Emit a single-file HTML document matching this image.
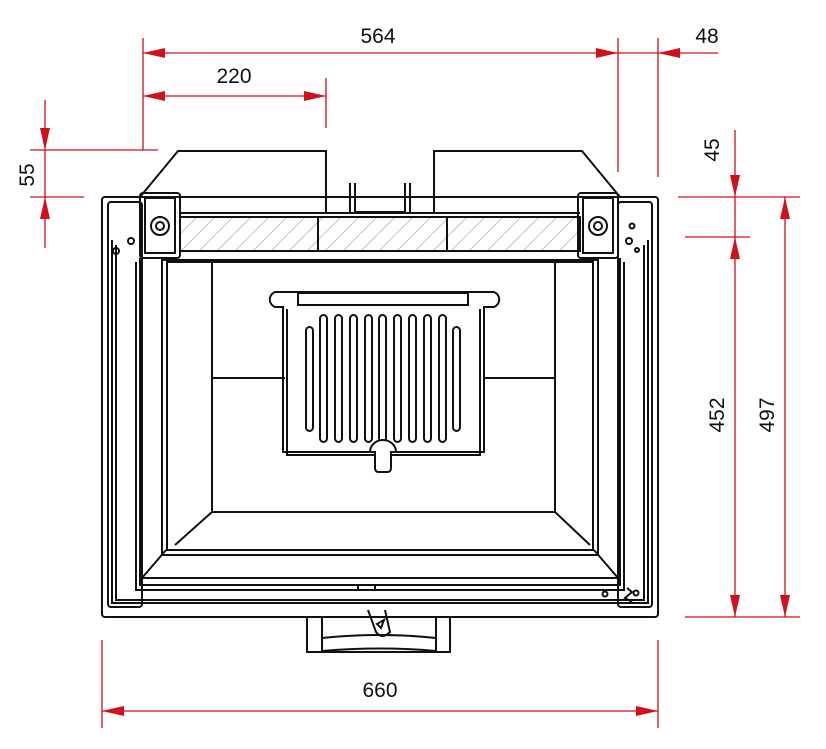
<!DOCTYPE html>
<html><head><meta charset="utf-8"><style>html,body{margin:0;padding:0;background:#fff}svg{display:block}text{font-family:"Liberation Sans",sans-serif;font-size:21px;fill:#111}</style></head>
<body>
<svg width="826" height="749" viewBox="0 0 826 749" xmlns="http://www.w3.org/2000/svg">
<defs>
<pattern id="h" width="18" height="18" patternUnits="userSpaceOnUse"><path d="M0 18 L18 0" stroke="#bbb" stroke-width="0.8"/></pattern>
</defs>
<g fill="none" stroke="#111" stroke-width="2">
<rect x="102" y="197" width="556" height="420" rx="3"/>
<rect x="108" y="202" width="34" height="405" rx="3"/>
<rect x="618" y="202" width="34" height="405" rx="3"/>
<path d="M112 240 V603 H648 V240"/>
<path d="M116 245 V600 H644 V245"/>
<path d="M140 197 L178 151 H326 V213"/>
<path d="M620 197 L582 151 H434 V213"/>
<path d="M350 183 V213 M355 183 V212 H405 V183 M410 183 V213"/>
<path d="M180 213 H580"/>
<rect x="180" y="217" width="400" height="34" fill="url(#h)"/>
<path d="M318 217 V251 M447 217 V251"/>
<rect x="140" y="193" width="40" height="65" rx="3"/>
<rect x="145" y="198" width="30" height="55"/>
<circle cx="160" cy="226" r="9"/><circle cx="160" cy="226" r="4"/>
<rect x="578" y="193" width="40" height="65" rx="3"/>
<rect x="583" y="198" width="30" height="55"/>
<circle cx="598" cy="226" r="9"/><circle cx="598" cy="226" r="4"/>
<circle cx="116" cy="251" r="3"/><circle cx="131" cy="241" r="3"/>
<circle cx="632" cy="226" r="2.5"/><circle cx="629" cy="241" r="3"/><circle cx="637" cy="250" r="2"/>
<path d="M140 258 V585 H620 V258"/>
<path d="M136 262 V590 H624 V262"/>
<rect x="162" y="260" width="436" height="295"/>
<rect x="167" y="262" width="426" height="288"/>
<rect x="212" y="262" width="343" height="250"/>
<path d="M212 512 L175 545 M555 512 L590 545 M166 550 L142 578 M594 550 L618 578 M142 578 H618"/>
<path d="M212 378 H285 M484 378 H555"/>
<path d="M358 585 V590 M375 585 V590"/>
<circle cx="605" cy="594" r="2.5"/><circle cx="636" cy="593" r="2.5"/>
<path d="M627 588 L632 592 L625 598 L632 602"/>
<path d="M275 307 H283 V452 H484 V307 H494 A8 8 0 0 0 494 292 H275 A8 8 0 0 0 275 307 Z"/>
<rect x="298" y="293" width="170" height="12"/>
<path d="M287 309 V455 H480 V309"/>
<rect x="306" y="327" width="7" height="104" rx="3.5"/>
<rect x="453" y="327" width="7" height="104" rx="3.5"/>
<g>
<rect x="320" y="315" width="7" height="127" rx="3.5"/>
<rect x="335" y="315" width="7" height="127" rx="3.5"/>
<rect x="350" y="315" width="7" height="127" rx="3.5"/>
<rect x="365" y="315" width="7" height="127" rx="3.5"/>
<rect x="379" y="315" width="7" height="127" rx="3.5"/>
<rect x="394" y="315" width="7" height="127" rx="3.5"/>
<rect x="409" y="315" width="7" height="127" rx="3.5"/>
<rect x="424" y="315" width="7" height="127" rx="3.5"/>
<rect x="439" y="315" width="7" height="127" rx="3.5"/>
</g>
<path d="M375 452 V468 Q375 472 379 472 H387 Q391 472 391 468 V452 H396 A13 12 0 0 0 370 452 Z" fill="#fff"/>
<path d="M307 617 V652 H450 V617 M322 617 V652 M436 617 V652 M322 638 Q380 632 436 638 M322 651 Q380 646 436 651"/>
<path d="M368 610 L376 632 Q382 640 390 632 L385 610"/>
<path d="M377 624 L384 620 L381 628 Z"/>
</g>
<g stroke="#d0101b" stroke-width="1.3" fill="none">
<path d="M143 38 V150 M618 38 V172 M658 38 V177 M143 53 H618 M618 53 H718"/>
<path d="M143 96 H326 M326 78 V128"/>
<path d="M45 100 V248 M30 150 H158 M30 197 H84"/>
<path d="M735 130 V617 M678 197 H800 M685 237 H750 M785 197 V617 M685 617 H800"/>
<path d="M102 640 V728 M658 640 V728 M102 711 H658"/>
</g>
<g fill="#d0101b">
<path d="M143 53 l22 -5 v10z M618 53 l-22 -5 v10z M658 53 l22 -5 v10z"/>
<path d="M143 96 l22 -5 v10z M326 96 l-22 -5 v10z"/>
<path d="M45 150 l-5 -22 h10z M45 197 l-5 22 h10z"/>
<path d="M735 197 l-5 -22 h10z M735 237 l-5 22 h10z M735 617 l-5 -22 h10z"/>
<path d="M785 197 l-5 22 h10z M785 617 l-5 -22 h10z"/>
<path d="M102 711 l22 -5 v10z M658 711 l-22 -5 v10z"/>
</g>
<text x="378" y="43" text-anchor="middle">564</text>
<text x="707" y="43" text-anchor="middle">48</text>
<text x="234" y="83" text-anchor="middle">220</text>
<text x="380" y="697" text-anchor="middle">660</text>
<text transform="translate(34,175) rotate(-90)" text-anchor="middle">55</text>
<text transform="translate(719,150) rotate(-90)" text-anchor="middle">45</text>
<text transform="translate(724,415) rotate(-90)" text-anchor="middle">452</text>
<text transform="translate(774,415) rotate(-90)" text-anchor="middle">497</text>
</svg>
</body></html>
